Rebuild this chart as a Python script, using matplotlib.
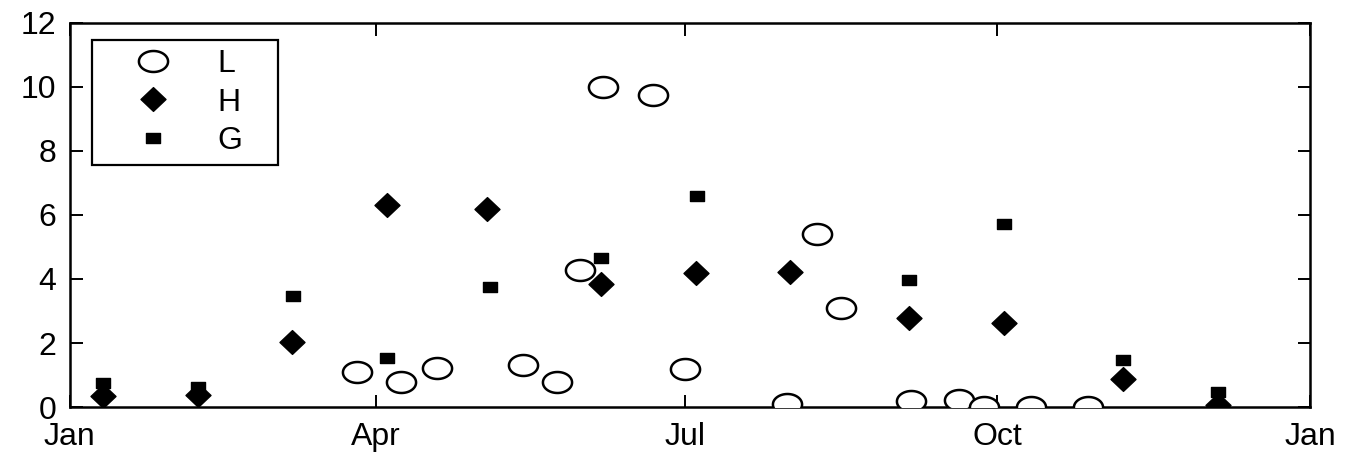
import matplotlib
matplotlib.use("Agg")
import matplotlib.pyplot as plt
from matplotlib.path import Path
import numpy as np

# Day of year (0 = Jan 1) and values
L_day = [84.5, 97.4, 108, 133.4, 143.4, 150, 157, 171.6, 181, 211, 220, 227, 247.6, 261.7, 269, 283, 299.7]
L_val = [1.09, 0.78, 1.22, 1.31, 0.78, 4.28, 10.0, 9.75, 1.19, 0.09, 5.4, 3.1, 0.2, 0.22, 0.0, 0.0, 0.0]

H_day = [9.7, 37.6, 65.4, 93.2, 122.7, 156.4, 184.3, 212, 247, 275, 310, 338]
H_val = [0.34, 0.37, 2.03, 6.32, 6.18, 3.84, 4.19, 4.22, 2.78, 2.62, 0.87, 0.06]

G_day = [9.7, 37.6, 65.6, 93.2, 123.6, 156.4, 184.5, 247, 275, 310, 338]
G_val = [0.75, 0.63, 3.47, 1.52, 3.75, 4.66, 6.59, 3.97, 5.71, 1.47, 0.47]

xtick_pos = [0, 90, 181, 273, 365]
xtick_labels = ["Jan", "Apr", "Jul", "Oct", "Jan"]
ytick_pos = [0, 2, 4, 6, 8, 10, 12]

plt.rcParams['font.family'] = ['Liberation Sans', 'DejaVu Sans']

# custom marker shapes (wider than tall, as in the scanned figure)
t = np.linspace(0, 2 * np.pi, 60)
ellipse = Path(np.column_stack([np.cos(t), 0.72 * np.sin(t)]), closed=True)
diamond = Path([(0, -0.95), (1.0, 0), (0, 0.95), (-1.0, 0), (0, -0.95)], closed=True)
rect = Path([(-1, -0.7), (1, -0.7), (1, 0.7), (-1, 0.7), (-1, -0.7)], closed=True)

fig = plt.figure(figsize=(13.71, 4.57), dpi=100)
ax = fig.add_axes([0.051, 0.1094, 0.9045, 0.8403])

ax.plot(L_day, L_val, linestyle='none', marker=ellipse, markersize=21,
        markerfacecolor='white', markeredgecolor='black', markeredgewidth=1.8, label='L', zorder=3)
ax.plot(H_day, H_val, linestyle='none', marker=diamond, markersize=18,
        markerfacecolor='black', markeredgecolor='black', label='H', zorder=4)
ax.plot(G_day, G_val, linestyle='none', marker=rect, markersize=10,
        markerfacecolor='black', markeredgecolor='black', label='G', zorder=5)

ax.set_xlim(0, 365)
ax.set_ylim(0, 12)
ax.set_xticks(xtick_pos)
ax.set_xticklabels(xtick_labels)
ax.set_yticks(ytick_pos)
ax.tick_params(direction='in', length=9, width=1.4, labelsize=23, top=True, right=True)
ax.tick_params(axis='x', pad=11)
ax.tick_params(axis='y', pad=10)
for s in ax.spines.values():
    s.set_linewidth(1.8)

leg = ax.legend(loc='upper left', bbox_to_anchor=(0.0177, 0.5, 0.15, 0.4557),
                mode='expand', fontsize=23,
                frameon=True, fancybox=False, edgecolor='black', framealpha=1,
                handlelength=3.24, handletextpad=0.4, labelspacing=0.27,
                borderpad=0.28, borderaxespad=0, numpoints=1)
leg.get_frame().set_linewidth(1.6)

fig.savefig("out.png", dpi=100)
